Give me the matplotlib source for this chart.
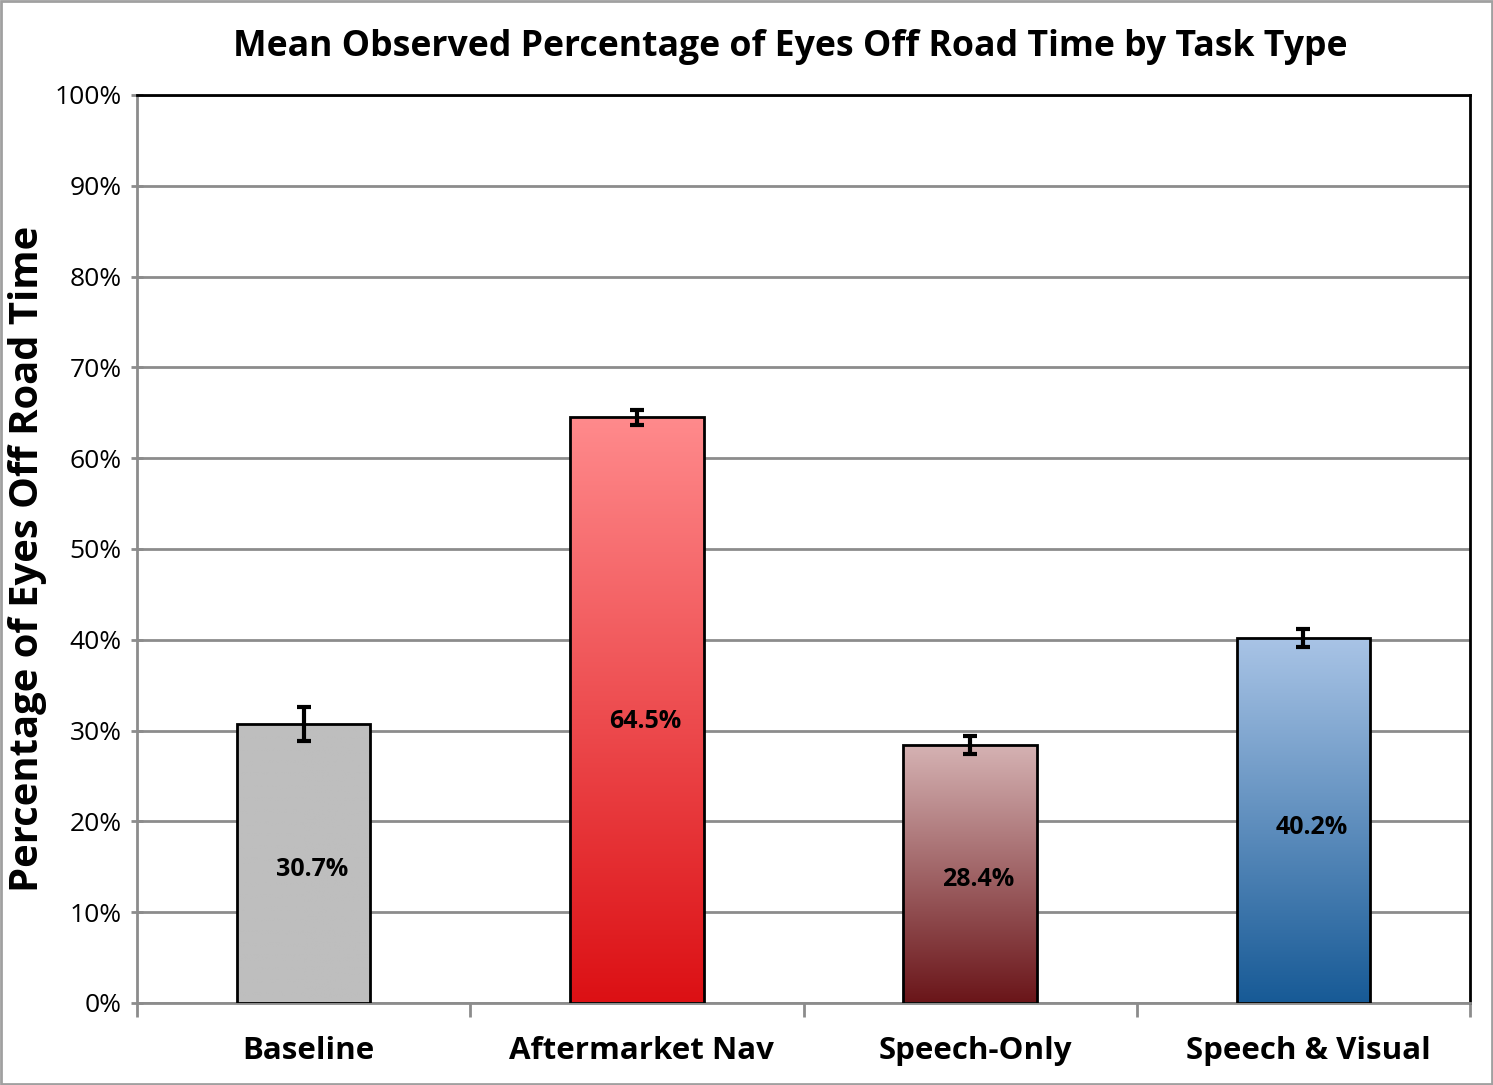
import numpy as np
import matplotlib.pyplot as plt
from matplotlib.colors import LinearSegmentedColormap
from matplotlib.patches import Rectangle
from matplotlib.transforms import ScaledTranslation

plt.rcParams['font.family'] = ['Open Sans', 'DejaVu Sans']

# Data
tasks = ['Baseline', 'Aftermarket Nav', 'Speech-Only', 'Speech & Visual']
mean_pct = [30.7, 64.5, 28.4, 40.2]
err_pct = [1.9, 0.8, 1.0, 1.0]
# gradient colours (top, bottom) for each bar
top_colors = ['#bebebe', '#ff8a8c', '#d5b2b3', '#a9c4e6']
bottom_colors = ['#bebebe', '#dc1014', '#6a1519', '#175a96']

fig = plt.figure(figsize=(14.93, 10.85), dpi=100)
ax = fig.add_axes([137 / 1493, 1 - 1003 / 1085, (1470 - 137) / 1493, (1003 - 95) / 1085])

x = np.arange(len(tasks))
bars = ax.bar(x, mean_pct, width=0.4, color='none', edgecolor='black', linewidth=2, zorder=3)

# fill each bar with a vertical gradient clipped to the bar outline
grad = np.linspace(0, 1, 256).reshape(-1, 1)
for bar, c_top, c_bot in zip(bars, top_colors, bottom_colors):
    bx, by = bar.get_x(), bar.get_y()
    w, h = bar.get_width(), bar.get_height()
    cmap = LinearSegmentedColormap.from_list('g', [c_bot, c_top])
    im = ax.imshow(grad, cmap=cmap, origin='lower', aspect='auto',
                   extent=[bx, bx + w, by, by + h], zorder=2.5)
    im.set_clip_path(bar)

ax.errorbar(x, mean_pct, yerr=err_pct, fmt='none', ecolor='black',
            elinewidth=3, capsize=5, capthick=3, zorder=4)

for xi, v in zip(x, mean_pct):
    ax.text(xi + 0.025, v * 0.48, f'{v:.1f}%', ha='center', va='center',
            fontsize=18, fontweight='bold', zorder=5)

ax.set_xlim(-0.5, len(tasks) - 0.5)
ax.set_ylim(0, 100)
ax.set_yticks(np.arange(0, 101, 10))
ax.set_yticklabels([f'{t}%' for t in range(0, 101, 10)], fontsize=19)
ax.yaxis.grid(True, color='#8c8c8c', linewidth=2)
ax.set_axisbelow(True)

ax.set_xticks(x)
ax.set_xticklabels(tasks, fontsize=22.5, fontweight='bold')
ax.tick_params(axis='x', length=0, pad=24)
# nudge category labels a little to the right
for lbl in ax.get_xticklabels():
    lbl.set_transform(lbl.get_transform() + ScaledTranslation(5 / 100, 0, fig.dpi_scale_trans))
ax.set_xticks(np.arange(-0.5, len(tasks), 1), minor=True)
ax.tick_params(axis='x', which='minor', length=10, width=2, color='#8c8c8c', direction='out')
ax.tick_params(axis='y', length=8, width=2, color='#8c8c8c', direction='inout', pad=7)

ax.spines['left'].set_color('#8c8c8c')
ax.spines['bottom'].set_color('#8c8c8c')
ax.spines['top'].set_color('black')
ax.spines['right'].set_color('black')
for s in ax.spines.values():
    s.set_linewidth(2)

fig.text(28 / 1493, 1 - 559 / 1085, 'Percentage of Eyes Off Road Time', rotation=90,
         ha='center', va='center', fontsize=28.8, fontweight='bold')
fig.text(790 / 1493, 1 - 47 / 1085, 'Mean Observed Percentage of Eyes Off Road Time by Task Type',
         ha='center', va='center', fontsize=25.7, fontweight='bold')

# outer frame of the figure
fig.patches.append(Rectangle((0.0005, 0.0005), 0.999, 0.999, transform=fig.transFigure,
                             fill=False, edgecolor='#a0a0a0', linewidth=2))

fig.savefig('out.png', dpi=100)
